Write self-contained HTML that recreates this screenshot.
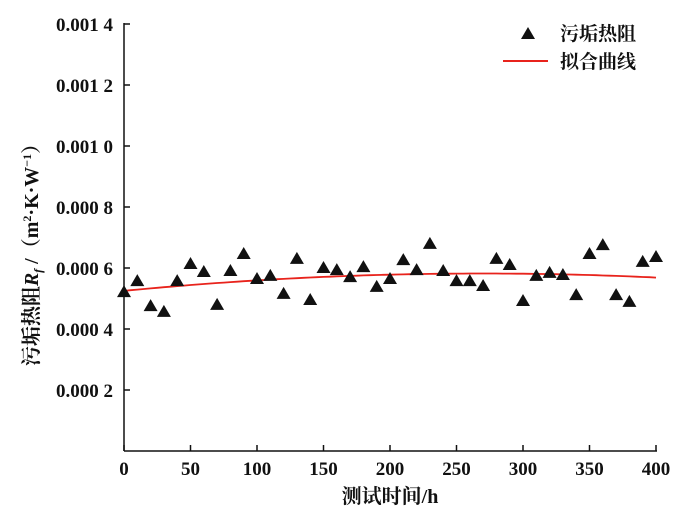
<!DOCTYPE html>
<html><head><meta charset="utf-8"><style>
body{margin:0;background:#fff;}
svg text{font-family:"Liberation Serif","Noto Serif CJK SC",serif;fill:#111;font-weight:bold;}
</style></head><body>
<svg id="chart" width="700" height="519" viewBox="0 0 700 519">
<g id="axes"></g>
<g id="marks"></g>
<g>
<polygon points="528,27 521,39 535,39" fill="#111"/>
<text x="560" y="40" font-size="19">污垢热阻</text>
<line x1="503" y1="61" x2="548" y2="61" stroke="#e8231c" stroke-width="2"/>
<text x="560" y="68" font-size="19">拟合曲线</text>
</g>
<text x="390" y="503" font-size="20" text-anchor="middle">测试时间/h</text>
<text transform="translate(38,250) rotate(-90)" font-size="20" text-anchor="middle">污垢热阻<tspan font-style="italic">R</tspan><tspan font-style="italic" font-size="12" dy="4">f</tspan><tspan dy="-4"> /（m</tspan><tspan font-size="12" dy="-7">2</tspan><tspan dy="7">·K·W</tspan><tspan font-size="12" dy="-7">−1</tspan><tspan dy="7">）</tspan></text>
</svg>
<script>
const times=[0,10,20,30,40,50,60,70,80,90,100,110,120,130,140,150,160,170,180,190,200,210,220,230,240,250,260,270,280,290,300,310,320,330,340,350,360,370,380,390,400];
const resistance=[0.000521,0.000557,0.000475,0.000456,0.000557,0.000613,0.000587,0.000479,0.00059,0.000646,0.000564,0.000574,0.000515,0.00063,0.000495,0.0006,0.000593,0.00057,0.000603,0.000538,0.000564,0.000626,0.000593,0.000679,0.00059,0.000557,0.000557,0.000541,0.00063,0.00061,0.000492,0.000574,0.000584,0.000577,0.000511,0.000646,0.000675,0.000511,0.000489,0.00062,0.000636];
const fitCoef=[0.000525,4.22e-7,-7.82e-10];
const xTicks=[0,50,100,150,200,250,300,350,400];
const yTicks=[0.0002,0.0004,0.0006,0.0008,0.0010,0.0012,0.0014];
const yTickLabels=["0.000 2","0.000 4","0.000 6","0.000 8","0.001 0","0.001 2","0.001 4"];
const NS="http://www.w3.org/2000/svg";
const X0=124,X1=656,Y0=451,Y1=24;
const xs=v=>X0+(v-0)/(400-0)*(X1-X0);
const ys=v=>Y0-(v/0.0014)*(Y0-Y1);
function mk(tag,attrs,parent){const e=document.createElementNS(NS,tag);for(const k in attrs)e.setAttribute(k,attrs[k]);parent.appendChild(e);return e;}
const axes=document.getElementById('axes'),marks=document.getElementById('marks');
let l=mk('line',{x1:X0,y1:Y1-1,x2:X0,y2:Y0,stroke:'#111','stroke-width':1.5},axes);


l=mk('line',{x1:X0,y1:Y0,x2:X1+1,y2:Y0,stroke:'#111','stroke-width':1.5},axes);


xTicks.forEach(t=>{
 const tk=mk('line',{x1:xs(t),y1:Y0,x2:xs(t),y2:Y0-6,stroke:'#111','stroke-width':1.5},axes);
 
 
 const tx=mk('text',{x:xs(t),y:Y0+24,'font-size':19,'text-anchor':'middle'},axes);
 tx.textContent=t;
 
 
});
yTicks.forEach((t,i)=>{
 const tk=mk('line',{x1:X0,y1:ys(t),x2:X0+6,y2:ys(t),stroke:'#111','stroke-width':1.5},axes);
 
 
 const tx=mk('text',{x:X0-11,y:ys(t)+7,'font-size':19,'text-anchor':'end'},axes);
 tx.textContent=yTickLabels[i];
 
 
});
let d='';
for(let t=0;t<=400;t+=5){const v=fitCoef[0]+fitCoef[1]*t+fitCoef[2]*t*t;d+=(t?'L':'M')+xs(t).toFixed(1)+','+ys(v).toFixed(1);}
const fl=mk('path',{d:d,fill:'none',stroke:'#e8231c','stroke-width':1.8},marks);


times.forEach((t,i)=>{
 const cx=xs(t),cy=ys(resistance[i]);
 const p=mk('polygon',{points:`${cx},${cy-7} ${cx-7},${cy+5} ${cx+7},${cy+5}`,fill:'#111'},marks);
 
 
});
</script>
</body></html>
